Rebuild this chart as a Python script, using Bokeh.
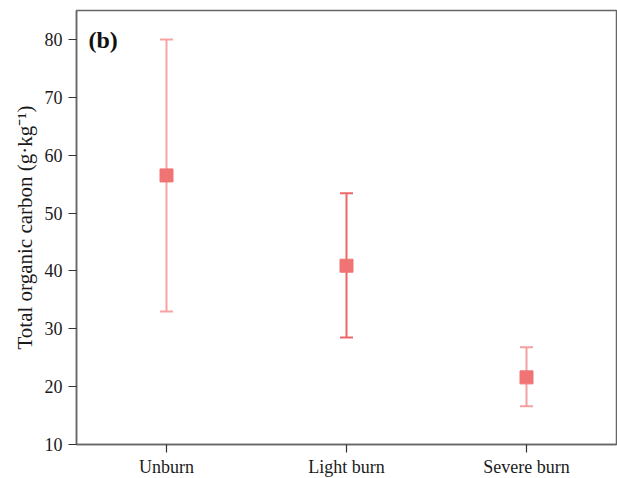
from bokeh.plotting import figure
from bokeh.models import Range1d, FixedTicker, Label
from bokeh.embed import file_html
from bokeh.resources import INLINE

categories = ["Unburn", "Light burn", "Severe burn"]
means = [56.5, 40.9, 21.6]
upper = [80.0, 53.4, 26.8]
lower = [33.0, 28.5, 16.6]
whisker_colors = ["#f7a3a3", "#ec6868", "#f5a0a0"]
y_ticks = [10, 20, 30, 40, 50, 60, 70, 80]

xs = [1, 2, 3]

p = figure(frame_width=540, frame_height=434, output_backend="svg", toolbar_location=None,
           x_range=Range1d(0.5, 3.5), y_range=Range1d(10, 85),
           min_border_left=76, min_border_right=1, min_border_top=10, min_border_bottom=30)
p.grid.visible = False
p.background_fill_color = "white"
p.outline_line_color = "#666666"
p.outline_line_width = 1.5

p.segment(x0=xs, y0=lower, x1=xs, y1=upper, line_color=whisker_colors, line_width=2)
p.scatter(x=xs, y=upper, marker="dash", size=13, line_color=whisker_colors, line_width=2)
p.scatter(x=xs, y=lower, marker="dash", size=13, line_color=whisker_colors, line_width=2)
p.scatter(x=xs, y=means, marker="square", size=13, fill_color="#f07474", line_color="#f07474")

font = "Liberation Serif"
p.xaxis.ticker = FixedTicker(ticks=xs)
p.xaxis.major_label_overrides = {x: c for x, c in zip(xs, categories)}
p.yaxis.ticker = FixedTicker(ticks=y_ticks)
for ax in (p.xaxis[0], p.yaxis[0]):
    ax.axis_line_color = "#666666"
    ax.axis_line_width = 1.5
    ax.major_tick_line_color = "#333333"
    ax.major_tick_line_width = 1.2
    ax.major_tick_out = 8
    ax.major_tick_in = 0
    ax.minor_tick_line_color = None
    ax.major_label_text_font = font
    ax.major_label_text_font_size = "18px"
    ax.major_label_text_color = "#1a1a1a"
p.xaxis.major_label_standoff = 4
p.yaxis.major_label_standoff = 6
p.yaxis.axis_label = "Total organic carbon (g·kg⁻¹)"
p.yaxis.axis_label_text_font = font
p.yaxis.axis_label_text_font_style = "normal"
p.yaxis.axis_label_text_font_size = "21px"
p.yaxis.axis_label_text_color = "#1a1a1a"
p.yaxis.axis_label_standoff = 5

p.add_layout(Label(x=12, y=405, x_units="screen", y_units="screen", text="(b)",
                   text_font=font, text_font_style="bold", text_font_size="24px",
                   text_color="#111111", text_baseline="middle"))

open("out.html", "w").write(file_html(p, INLINE))
